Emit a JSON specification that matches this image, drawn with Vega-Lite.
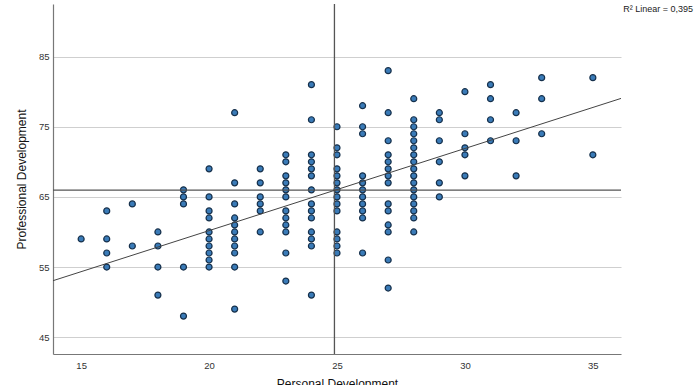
{
  "$schema": "https://vega.github.io/schema/vega-lite/v6.json",
  "width": 568,
  "height": 350,
  "autosize": "none",
  "padding": {"left": 53, "top": 4, "right": 74, "bottom": 31},
  "background": "white",
  "title": {
    "text": "R² Linear = 0,395",
    "anchor": "end",
    "orient": "top",
    "dx": 70,
    "dy": 15,
    "fontSize": 9,
    "font": "Liberation Sans",
    "fontWeight": "normal",
    "color": "#222222"
  },
  "config": {
    "view": {"stroke": null},
    "font": "Liberation Sans"
  },
  "datasets": {
    "points": [
      {"Personal": 15, "Professional": 59},
      {"Personal": 16, "Professional": 63},
      {"Personal": 16, "Professional": 59},
      {"Personal": 16, "Professional": 57},
      {"Personal": 16, "Professional": 55},
      {"Personal": 17, "Professional": 64},
      {"Personal": 17, "Professional": 58},
      {"Personal": 18, "Professional": 60},
      {"Personal": 18, "Professional": 58},
      {"Personal": 18, "Professional": 55},
      {"Personal": 18, "Professional": 51},
      {"Personal": 19, "Professional": 66},
      {"Personal": 19, "Professional": 65},
      {"Personal": 19, "Professional": 64},
      {"Personal": 19, "Professional": 55},
      {"Personal": 19, "Professional": 48},
      {"Personal": 20, "Professional": 69},
      {"Personal": 20, "Professional": 65},
      {"Personal": 20, "Professional": 63},
      {"Personal": 20, "Professional": 62},
      {"Personal": 20, "Professional": 60},
      {"Personal": 20, "Professional": 59},
      {"Personal": 20, "Professional": 58},
      {"Personal": 20, "Professional": 57},
      {"Personal": 20, "Professional": 56},
      {"Personal": 20, "Professional": 55},
      {"Personal": 21, "Professional": 77},
      {"Personal": 21, "Professional": 67},
      {"Personal": 21, "Professional": 64},
      {"Personal": 21, "Professional": 62},
      {"Personal": 21, "Professional": 61},
      {"Personal": 21, "Professional": 60},
      {"Personal": 21, "Professional": 59},
      {"Personal": 21, "Professional": 58},
      {"Personal": 21, "Professional": 57},
      {"Personal": 21, "Professional": 55},
      {"Personal": 21, "Professional": 49},
      {"Personal": 22, "Professional": 69},
      {"Personal": 22, "Professional": 67},
      {"Personal": 22, "Professional": 65},
      {"Personal": 22, "Professional": 64},
      {"Personal": 22, "Professional": 63},
      {"Personal": 22, "Professional": 60},
      {"Personal": 23, "Professional": 71},
      {"Personal": 23, "Professional": 70},
      {"Personal": 23, "Professional": 68},
      {"Personal": 23, "Professional": 67},
      {"Personal": 23, "Professional": 66},
      {"Personal": 23, "Professional": 65},
      {"Personal": 23, "Professional": 63},
      {"Personal": 23, "Professional": 62},
      {"Personal": 23, "Professional": 61},
      {"Personal": 23, "Professional": 60},
      {"Personal": 23, "Professional": 57},
      {"Personal": 23, "Professional": 53},
      {"Personal": 24, "Professional": 81},
      {"Personal": 24, "Professional": 76},
      {"Personal": 24, "Professional": 71},
      {"Personal": 24, "Professional": 70},
      {"Personal": 24, "Professional": 69},
      {"Personal": 24, "Professional": 68},
      {"Personal": 24, "Professional": 66},
      {"Personal": 24, "Professional": 64},
      {"Personal": 24, "Professional": 63},
      {"Personal": 24, "Professional": 62},
      {"Personal": 24, "Professional": 60},
      {"Personal": 24, "Professional": 59},
      {"Personal": 24, "Professional": 58},
      {"Personal": 24, "Professional": 51},
      {"Personal": 25, "Professional": 75},
      {"Personal": 25, "Professional": 72},
      {"Personal": 25, "Professional": 71},
      {"Personal": 25, "Professional": 69},
      {"Personal": 25, "Professional": 68},
      {"Personal": 25, "Professional": 67},
      {"Personal": 25, "Professional": 66},
      {"Personal": 25, "Professional": 65},
      {"Personal": 25, "Professional": 64},
      {"Personal": 25, "Professional": 63},
      {"Personal": 25, "Professional": 60},
      {"Personal": 25, "Professional": 59},
      {"Personal": 25, "Professional": 58},
      {"Personal": 25, "Professional": 57},
      {"Personal": 26, "Professional": 78},
      {"Personal": 26, "Professional": 75},
      {"Personal": 26, "Professional": 74},
      {"Personal": 26, "Professional": 68},
      {"Personal": 26, "Professional": 67},
      {"Personal": 26, "Professional": 66},
      {"Personal": 26, "Professional": 65},
      {"Personal": 26, "Professional": 64},
      {"Personal": 26, "Professional": 63},
      {"Personal": 26, "Professional": 62},
      {"Personal": 26, "Professional": 57},
      {"Personal": 27, "Professional": 83},
      {"Personal": 27, "Professional": 77},
      {"Personal": 27, "Professional": 73},
      {"Personal": 27, "Professional": 71},
      {"Personal": 27, "Professional": 70},
      {"Personal": 27, "Professional": 69},
      {"Personal": 27, "Professional": 68},
      {"Personal": 27, "Professional": 67},
      {"Personal": 27, "Professional": 64},
      {"Personal": 27, "Professional": 63},
      {"Personal": 27, "Professional": 61},
      {"Personal": 27, "Professional": 60},
      {"Personal": 27, "Professional": 56},
      {"Personal": 27, "Professional": 52},
      {"Personal": 28, "Professional": 79},
      {"Personal": 28, "Professional": 76},
      {"Personal": 28, "Professional": 75},
      {"Personal": 28, "Professional": 74},
      {"Personal": 28, "Professional": 73},
      {"Personal": 28, "Professional": 72},
      {"Personal": 28, "Professional": 71},
      {"Personal": 28, "Professional": 70},
      {"Personal": 28, "Professional": 69},
      {"Personal": 28, "Professional": 68},
      {"Personal": 28, "Professional": 67},
      {"Personal": 28, "Professional": 66},
      {"Personal": 28, "Professional": 65},
      {"Personal": 28, "Professional": 64},
      {"Personal": 28, "Professional": 63},
      {"Personal": 28, "Professional": 62},
      {"Personal": 28, "Professional": 60},
      {"Personal": 29, "Professional": 77},
      {"Personal": 29, "Professional": 76},
      {"Personal": 29, "Professional": 73},
      {"Personal": 29, "Professional": 70},
      {"Personal": 29, "Professional": 67},
      {"Personal": 29, "Professional": 65},
      {"Personal": 30, "Professional": 80},
      {"Personal": 30, "Professional": 74},
      {"Personal": 30, "Professional": 72},
      {"Personal": 30, "Professional": 71},
      {"Personal": 30, "Professional": 68},
      {"Personal": 31, "Professional": 81},
      {"Personal": 31, "Professional": 79},
      {"Personal": 31, "Professional": 76},
      {"Personal": 31, "Professional": 73},
      {"Personal": 32, "Professional": 77},
      {"Personal": 32, "Professional": 73},
      {"Personal": 32, "Professional": 68},
      {"Personal": 33, "Professional": 82},
      {"Personal": 33, "Professional": 79},
      {"Personal": 33, "Professional": 74},
      {"Personal": 35, "Professional": 82},
      {"Personal": 35, "Professional": 71}
    ],
    "fit": [
      {"Personal": 13.9, "Professional": 53.05},
      {"Personal": 36.1, "Professional": 79.04}
    ],
    "meanY": [{"Professional": 65.95}],
    "meanX": [{"Personal": 24.9}]
  },
  "layer": [
    {
      "data": {"name": "points"},
      "mark": {"type": "point", "filled": true, "shape": "circle", "size": 36, "fill": "#3a7bb8", "stroke": "#16304b", "strokeWidth": 1.2, "opacity": 1},
      "encoding": {
        "x": {
          "field": "Personal", "type": "quantitative",
          "scale": {"domain": [13.9, 36.1], "nice": false, "zero": false},
          "axis": {
            "title": "Personal Development",
            "values": [15, 20, 25, 30, 35],
            "grid": false,
            "ticks": false,
            "domainColor": "#777777",
            "domainWidth": 1.2,
            "labelFontSize": 9.5,
            "labelColor": "#333333",
            "labelPadding": 6,
            "titleFontSize": 12,
            "titleFontWeight": "normal",
            "titleColor": "#111111",
            "titlePadding": 9
          }
        },
        "y": {
          "field": "Professional", "type": "quantitative",
          "scale": {"domain": [42.6, 92.5], "nice": false, "zero": false},
          "axis": {
            "title": "Professional Development",
            "values": [45, 55, 65, 75, 85],
            "grid": true,
            "gridColor": "#cfcfcf",
            "gridWidth": 1.2,
            "ticks": false,
            "domainColor": "#777777",
            "domainWidth": 1.2,
            "labelFontSize": 9.5,
            "labelColor": "#333333",
            "labelPadding": 4,
            "titleFontSize": 12,
            "titleFontWeight": "normal",
            "titleColor": "#111111",
            "titlePadding": 10
          }
        }
      }
    },
    {
      "data": {"name": "meanY"},
      "mark": {"type": "rule", "color": "#555555", "strokeWidth": 1.3},
      "encoding": {"y": {"field": "Professional", "type": "quantitative"}}
    },
    {
      "data": {"name": "meanX"},
      "mark": {"type": "rule", "color": "#555555", "strokeWidth": 1.3},
      "encoding": {"x": {"field": "Personal", "type": "quantitative"}}
    },
    {
      "data": {"name": "fit"},
      "mark": {"type": "line", "color": "#444444", "strokeWidth": 1},
      "encoding": {
        "x": {"field": "Personal", "type": "quantitative"},
        "y": {"field": "Professional", "type": "quantitative"}
      }
    }
  ]
}
